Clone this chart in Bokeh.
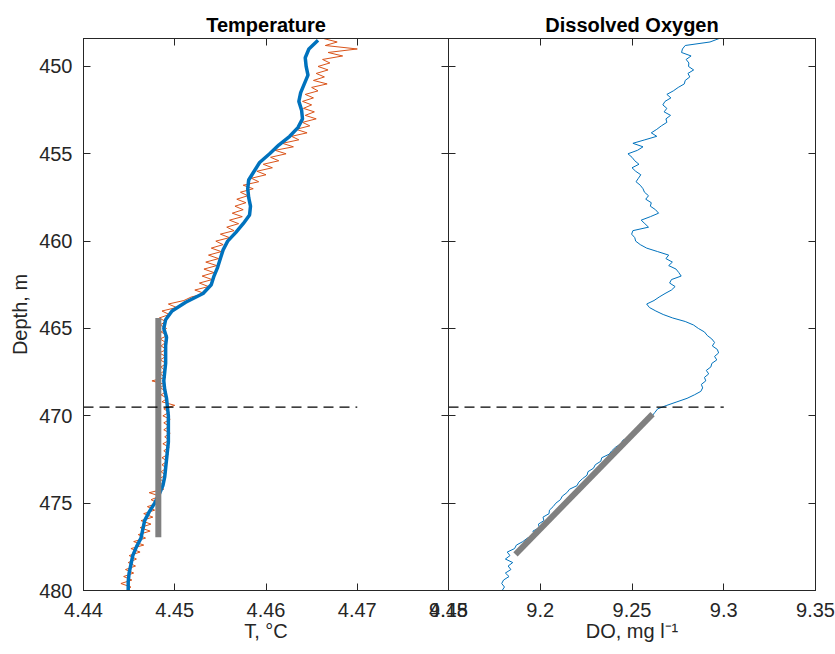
from bokeh.plotting import figure
from bokeh.models import Range1d, LinearAxis, FixedTicker
from bokeh.layouts import row
from bokeh.embed import file_html
from bokeh.resources import INLINE

# ---------------- data ----------------
depth_grid = [
    448.4, 448.6, 448.8, 449.0, 449.2, 449.4, 449.6, 449.8, 450.0, 450.2,
    450.4, 450.6, 450.8, 451.0, 451.2, 451.4, 451.6, 451.8, 452.0, 452.2,
    452.4, 452.6, 452.8, 453.0, 453.2, 453.4, 453.6, 453.8, 454.0, 454.2,
    454.4, 454.6, 454.8, 455.0, 455.2, 455.4, 455.6, 455.8, 456.0, 456.2,
    456.4, 456.6, 456.8, 457.0, 457.2, 457.4, 457.6, 457.8, 458.0, 458.2,
    458.4, 458.6, 458.8, 459.0, 459.2, 459.4, 459.6, 459.8, 460.0, 460.2,
    460.4, 460.6, 460.8, 461.0, 461.2, 461.4, 461.6, 461.8, 462.0, 462.2,
    462.4, 462.6, 462.8, 463.0, 463.2, 463.4, 463.6, 463.8, 464.0, 464.2,
    464.4, 464.6, 464.8, 465.0, 465.2, 465.4, 465.6, 465.8, 466.0, 466.2,
    466.4, 466.6, 466.8, 467.0, 467.2, 467.4, 467.6, 467.8, 468.0, 468.2,
    468.4, 468.6, 468.8, 469.0, 469.2, 469.4, 469.6, 469.8, 470.0, 470.2,
    470.4, 470.6, 470.8, 471.0, 471.2, 471.4, 471.6, 471.8, 472.0, 472.2,
    472.4, 472.6, 472.8, 473.0, 473.2, 473.4, 473.6, 473.8, 474.0, 474.2,
    474.4, 474.6, 474.8, 475.0, 475.2, 475.4, 475.6, 475.8, 476.0, 476.2,
    476.4, 476.6, 476.8, 477.0, 477.2, 477.4, 477.6, 477.8, 478.0, 478.2,
    478.4, 478.6, 478.8, 479.0, 479.2, 479.4, 479.6, 479.8, 480.0,
]

temp_raw = [
    4.4663, 4.4678, 4.4665, 4.4700, 4.4668, 4.4684, 4.4662, 4.4670, 4.4657, 4.4668,
    4.4655, 4.4664, 4.4652, 4.4667, 4.4650, 4.4657, 4.4643, 4.4652, 4.4640, 4.4650,
    4.4641, 4.4653, 4.4643, 4.4655, 4.4640, 4.4648, 4.4633, 4.4645, 4.4628, 4.4636,
    4.4618, 4.4630, 4.4610, 4.4622, 4.4605, 4.4614, 4.4597, 4.4607, 4.4590, 4.4600,
    4.4584, 4.4592, 4.4575, 4.4586, 4.4572, 4.4580, 4.4568, 4.4578, 4.4566, 4.4575,
    4.4563, 4.4574, 4.4560, 4.4570, 4.4557, 4.4565, 4.4550, 4.4560, 4.4545, 4.4553,
    4.4540, 4.4551, 4.4537, 4.4548, 4.4534, 4.4546, 4.4532, 4.4543, 4.4530, 4.4541,
    4.4527, 4.4537, 4.4522, 4.4533, 4.4518, 4.4510, 4.4493, 4.4502, 4.4486, 4.4494,
    4.4483, 4.4490, 4.4484, 4.4491, 4.4485, 4.4492, 4.4484, 4.4490, 4.4485, 4.4491,
    4.4483, 4.4490, 4.4484, 4.4491, 4.4485, 4.4489, 4.4484, 4.4490, 4.4475, 4.4489,
    4.4484, 4.4491, 4.4485, 4.4492, 4.4486, 4.4500, 4.4488, 4.4494, 4.4487, 4.4495,
    4.4488, 4.4494, 4.4488, 4.4495, 4.4489, 4.4494, 4.4487, 4.4494, 4.4488, 4.4493,
    4.4486, 4.4492, 4.4486, 4.4491, 4.4485, 4.4490, 4.4483, 4.4489, 4.4482, 4.4488,
    4.4472, 4.4484, 4.4474, 4.4482, 4.4470, 4.4478, 4.4466, 4.4476, 4.4463, 4.4474,
    4.4462, 4.4473, 4.4460, 4.4468, 4.4455, 4.4466, 4.4452, 4.4462, 4.4450, 4.4458,
    4.4449, 4.4457, 4.4446, 4.4455, 4.4444, 4.4453, 4.4441, 4.4452, 4.4447,
]

do_raw = [
    9.2975, 9.2925, 9.2790, 9.2775, 9.2770, 9.2822, 9.2795, 9.2810, 9.2808, 9.2836,
    9.2805, 9.2815, 9.2790, 9.2785, 9.2752, 9.2725, 9.2690, 9.2712, 9.2680, 9.2668,
    9.2690, 9.2675, 9.2710, 9.2685, 9.2690, 9.2660, 9.2635, 9.2605, 9.2635, 9.2570,
    9.2505, 9.2560, 9.2530, 9.2478, 9.2500, 9.2515, 9.2538, 9.2500, 9.2520, 9.2548,
    9.2535, 9.2522, 9.2545, 9.2560, 9.2568, 9.2590, 9.2575, 9.2605, 9.2600, 9.2628,
    9.2645, 9.2600, 9.2550, 9.2570, 9.2590, 9.2505, 9.2498, 9.2515, 9.2520, 9.2545,
    9.2580, 9.2640, 9.2700, 9.2685, 9.2720, 9.2700, 9.2740, 9.2755, 9.2768, 9.2715,
    9.2705, 9.2735, 9.2715, 9.2680, 9.2648, 9.2620, 9.2580, 9.2595, 9.2630, 9.2670,
    9.2722, 9.2790, 9.2835, 9.2862, 9.2895, 9.2910, 9.2935, 9.2950, 9.2938, 9.2965,
    9.2972, 9.2950, 9.2962, 9.2935, 9.2930, 9.2905, 9.2918, 9.2895, 9.2902, 9.2878,
    9.2885, 9.2875, 9.2840, 9.2800, 9.2745, 9.2690, 9.2640, 9.2625, 9.2610, 9.2588,
    9.2575, 9.2540, 9.2525, 9.2495, 9.2488, 9.2450, 9.2440, 9.2410, 9.2390, 9.2375,
    9.2335, 9.2330, 9.2300, 9.2290, 9.2260, 9.2255, 9.2230, 9.2210, 9.2200, 9.2160,
    9.2145, 9.2120, 9.2110, 9.2085, 9.2070, 9.2050, 9.2048, 9.2015, 9.2020, 9.1990,
    9.1995, 9.1960, 9.1968, 9.1930, 9.1905, 9.1870, 9.1860, 9.1820, 9.1835, 9.1810,
    9.1850, 9.1825, 9.1840, 9.1810, 9.1830, 9.1800, 9.1790, 9.1805, 9.1792,
]

smooth_depth = [
    448.5, 449.0, 449.5, 450.0, 450.5, 451.0, 451.5, 452.0, 452.5, 453.0,
    453.5, 454.0, 454.5, 455.0, 455.5, 456.0, 456.5, 457.0, 457.5, 458.0,
    458.5, 459.0, 459.5, 460.0, 460.5, 461.0, 461.5, 462.0, 462.5, 463.0,
    463.5, 464.0, 464.5, 465.0, 465.5, 466.0, 466.5, 467.0, 467.5, 468.0,
    468.5, 469.0, 469.5, 470.0, 470.5, 471.0, 471.5, 472.0, 472.5, 473.0,
    473.5, 474.0, 474.5, 475.0, 475.5, 476.0, 476.5, 477.0, 477.5, 478.0,
    478.5, 479.0, 479.5, 480.0,
]
temp_smooth = [
    4.4657, 4.4647, 4.4643, 4.4644, 4.4646, 4.4642, 4.4638, 4.4636, 4.4639, 4.4640,
    4.4635, 4.4626, 4.4614, 4.4604, 4.4593, 4.4587, 4.4581, 4.4580, 4.4581, 4.4583,
    4.4582, 4.4575, 4.4567, 4.4558, 4.4553, 4.4550, 4.4547, 4.4543, 4.4540, 4.4531,
    4.4512, 4.4497, 4.4490, 4.4488, 4.4491, 4.4490, 4.4490, 4.4490, 4.4489, 4.4488,
    4.4489, 4.4491, 4.4492, 4.4493, 4.4493, 4.4493, 4.4493, 4.4492, 4.4491, 4.4490,
    4.4489, 4.4487, 4.4483, 4.4478, 4.4472, 4.4467, 4.4465, 4.4463, 4.4458, 4.4454,
    4.4452, 4.4450, 4.4449, 4.4449,
]

# mixed-layer fits (grey) and reference depth (dashed)
fit_T_value = [4.4482, 4.4482]
fit_T_depth = [464.4, 476.95]
fit_DO_value = [9.2612, 9.1865]
fit_DO_depth = [469.9, 477.93]
ref_depth = [469.5, 469.5]
ref_T_extent = [4.44, 4.47]
ref_DO_extent = [9.15, 9.30]

# axes
depth_ticks = [450, 455, 460, 465, 470, 475, 480]
depth_labels = ["450", "455", "460", "465", "470", "475", "480"]
T_ticks = [4.44, 4.45, 4.46, 4.47, 4.48]
T_labels = ["4.44", "4.45", "4.46", "4.47", "4.48"]
DO_ticks = [9.15, 9.2, 9.25, 9.3, 9.35]
DO_labels = ["9.15", "9.2", "9.25", "9.3", "9.35"]

assert len(depth_grid) == len(temp_raw) == len(do_raw)
assert len(smooth_depth) == len(temp_smooth)

# ---------------- style ----------------
FONT = "Liberation Sans"
AX = "#262626"
BLUE = "#0072BD"
RED = "#D95319"
GREY = "#808080"

FRAME_H = 552
TOP = 38
BOTTOM = 58


def style_axis(ax, ticks, labels, show):
    ax.ticker = FixedTicker(ticks=ticks)
    ax.axis_line_color = AX
    ax.axis_line_width = 1
    ax.major_tick_line_color = AX
    ax.major_tick_in = 7
    ax.major_tick_out = 0
    ax.minor_tick_line_color = None
    ax.major_label_text_font = FONT
    if show:
        ax.major_label_overrides = dict(zip(ticks, labels))
        ax.major_label_text_color = AX
        ax.major_label_text_font_size = "20px"
    else:
        ax.major_label_text_color = None
        ax.major_label_text_font_size = "1px"
        ax.major_label_standoff = 0
    ax.axis_label_text_font = FONT
    ax.axis_label_text_font_size = "20px"
    ax.axis_label_text_font_style = "normal"
    ax.axis_label_text_color = AX


def make_panel(title, xr, xticks, xlabels, xlabel, show_y, frame_w, bl, br):
    p = figure(frame_width=frame_w, frame_height=FRAME_H, x_range=xr,
               y_range=Range1d(480, 448.4),
               output_backend="svg", toolbar_location=None,
               min_border_left=bl, min_border_right=br,
               min_border_top=TOP, min_border_bottom=BOTTOM,
               x_axis_label=xlabel, y_axis_label="Depth, m" if show_y else None)
    p.title.text = title
    p.title.align = "center"
    p.title.text_font = FONT
    p.title.text_font_size = "20px"
    p.title.text_font_style = "bold"
    p.title.text_color = "black"
    p.title.standoff = 5
    p.grid.visible = False
    p.outline_line_color = AX
    p.outline_line_alpha = 1
    p.background_fill_alpha = 0
    p.border_fill_alpha = 0
    style_axis(p.xaxis[0], xticks, xlabels, True)
    p.xaxis[0].major_label_standoff = 12
    p.xaxis[0].axis_label_standoff = 0
    style_axis(p.yaxis[0], depth_ticks, depth_labels, show_y)
    if show_y:
        p.yaxis[0].major_label_standoff = 11
        p.yaxis[0].axis_label_standoff = 5
    top = LinearAxis()
    style_axis(top, xticks, xlabels, False)
    p.add_layout(top, "above")
    right = LinearAxis()
    style_axis(right, depth_ticks, depth_labels, False)
    p.add_layout(right, "right")
    p.styles = {"flex-shrink": "0"}
    return p


pT = make_panel("Temperature", Range1d(4.44, 4.48), T_ticks, T_labels, "T, °C", True,
                frame_w=365, bl=83, br=30)
pT.line(temp_raw, depth_grid, line_color=RED, line_width=1)
pT.line(temp_smooth, smooth_depth, line_color=BLUE, line_width=3.5)
pT.line(fit_T_value, fit_T_depth, line_color=GREY, line_width=6)
pT.line(ref_T_extent, ref_depth, line_color="black", line_width=1.3, line_dash="10 6")

pD = make_panel("Dissolved Oxygen", Range1d(9.15, 9.35), DO_ticks, DO_labels, "DO, mg l⁻¹", False,
                frame_w=367, bl=30, br=20)
pD.line(do_raw, depth_grid, line_color=BLUE, line_width=1)
pD.line(fit_DO_value, fit_DO_depth, line_color=GREY, line_width=6)
pD.line(ref_DO_extent, ref_depth, line_color="black", line_width=1.3, line_dash="10 6")
# overlap the two canvases so that the two frames share their border
pD.margin = (0, 0, 0, -60)

layout = row(pT, pD)
open("out.html", "w").write(file_html(layout, INLINE))
